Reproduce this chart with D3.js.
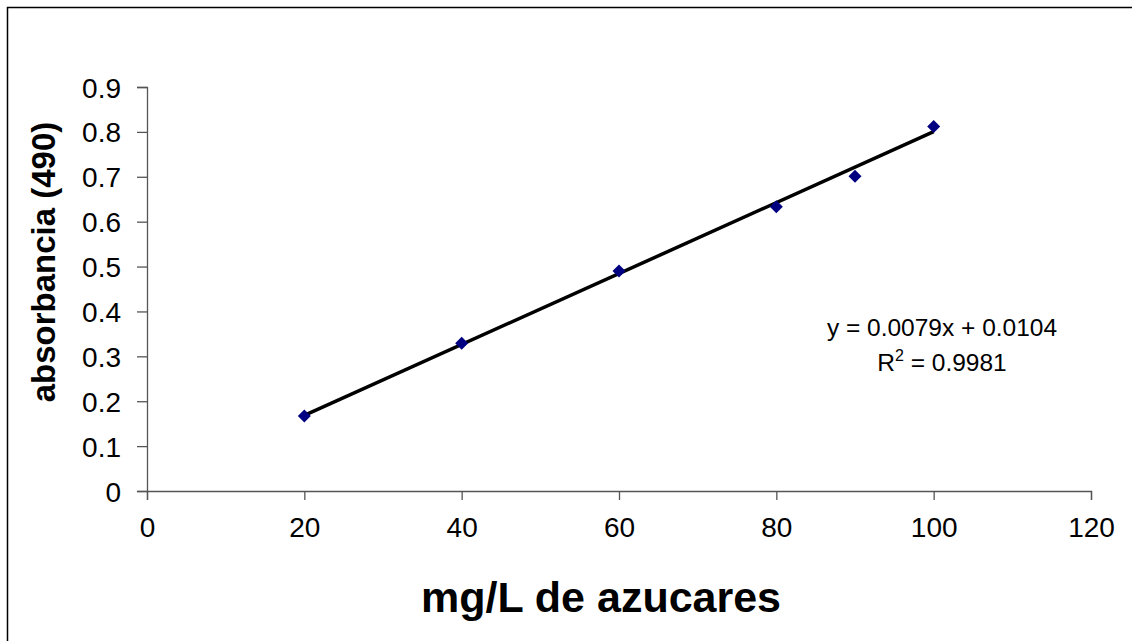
<!DOCTYPE html>
<html>
<head>
<meta charset="utf-8">
<script src="https://cdn.jsdelivr.net/npm/d3@7"></script>
<style>
  html, body { margin: 0; padding: 0; background: #fff; }
  svg { display: block; font-family: "Liberation Sans", Arial, sans-serif; }
</style>
</head>
<body>
<svg id="chart" width="1132" height="641"></svg>
<script>
const xValues = [20, 40, 60, 80, 90, 100];
const yValues = [0.167, 0.329, 0.490, 0.633, 0.701, 0.812];
const xTicks = [0, 20, 40, 60, 80, 100, 120];
const yTicks = [0, 0.1, 0.2, 0.3, 0.4, 0.5, 0.6, 0.7, 0.8, 0.9];
const slope = 0.0079, intercept = 0.0104;
const eqLines = ["y = 0.0079x + 0.0104", "R2 = 0.9981"];
const xTitle = "mg/L de azucares";
const yTitle = "absorbancia (490)";

const svg = d3.select("#chart");
const x = d3.scaleLinear().domain([0, 120]).range([147, 1091]);
const y = d3.scaleLinear().domain([0, 0.9]).range([491, 87]);

// outer frame (extends past right/bottom edge)
svg.append("rect").attr("x", 7.5).attr("y", 7.5).attr("width", 1200).attr("height", 700)
  .attr("fill", "none").attr("stroke", "#000").attr("stroke-width", 1.5);

// axes
const xAxis = svg.append("g").attr("transform", `translate(0,${y(0)})`)
  .call(d3.axisBottom(x).tickValues(xTicks).tickSize(9).tickPadding(10).tickFormat(d3.format("d")));
const yAxis = svg.append("g").attr("transform", `translate(${x(0)},0)`)
  .call(d3.axisLeft(y).tickValues(yTicks).tickSize(10).tickPadding(16).tickFormat(d => d === 0 ? "0" : d3.format(".1f")(d)));
[xAxis, yAxis].forEach(g => {
  g.select(".domain").attr("stroke", "#555").attr("stroke-width", 1.3);
  g.selectAll(".tick line").attr("stroke", "#555").attr("stroke-width", 1.3);
  g.selectAll(".tick text").attr("fill", "#000").style("font-size", "28px")
    .style("font-family", "'Liberation Sans', Arial, sans-serif");
});
xAxis.selectAll(".tick text").attr("dy", "0.95em");
yAxis.selectAll(".tick text").attr("dy", "0.36em");

// trend line
const x0 = d3.min(xValues), x1 = d3.max(xValues);
svg.append("line")
  .attr("x1", x(x0)).attr("y1", y(slope * x0 + intercept))
  .attr("x2", x(x1)).attr("y2", y(slope * x1 + intercept))
  .attr("stroke", "#000").attr("stroke-width", 3.5);

// markers (diamonds)
const r = 6.5;
svg.append("g").selectAll("path").data(xValues.map((v, i) => [v, yValues[i]])).join("path")
  .attr("d", d => {
    const cx = x(d[0]), cy = y(d[1]);
    return `M${cx},${cy - r}L${cx + r},${cy}L${cx},${cy + r}L${cx - r},${cy}Z`;
  })
  .attr("fill", "#000080");

// equation
const eq = svg.append("g").style("font-size", "24.5px").attr("fill", "#000");
eq.append("text").attr("x", 942).attr("y", 336).attr("text-anchor", "middle").text(eqLines[0]);
const t2 = eq.append("text").attr("x", 942).attr("y", 371).attr("text-anchor", "middle");
t2.append("tspan").text("R");
t2.append("tspan").attr("dy", -10).style("font-size", "16px").text("2");
t2.append("tspan").attr("dy", 10).text(" = 0.9981");

// titles
svg.append("text").attr("x", 601).attr("y", 612).attr("text-anchor", "middle")
  .style("font-size", "43px").style("font-weight", "bold").text(xTitle);
svg.append("text").attr("transform", "translate(55,262) rotate(-90)").attr("text-anchor", "middle")
  .style("font-size", "33px").style("font-weight", "bold").text(yTitle);
</script>
</body>
</html>
